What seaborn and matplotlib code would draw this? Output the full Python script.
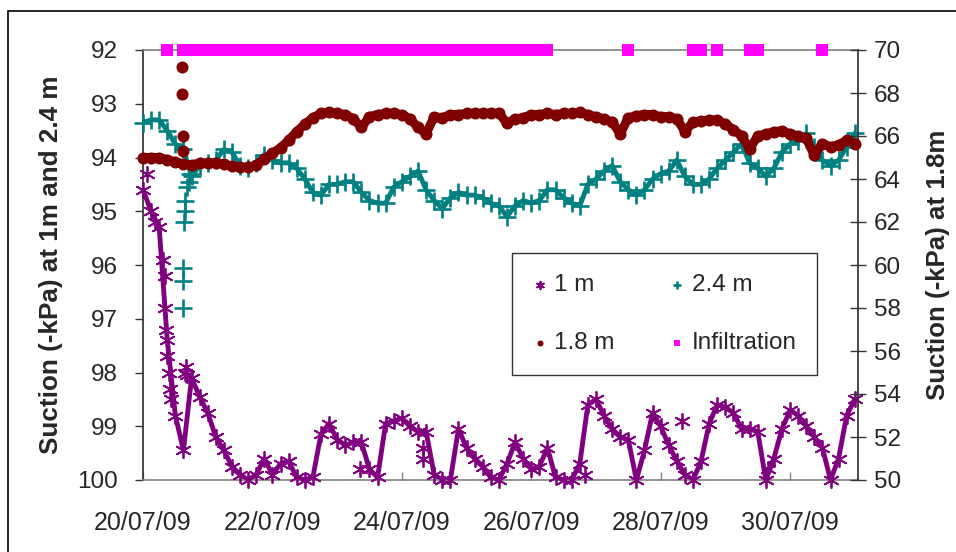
import numpy as np
import pandas as pd
import matplotlib
matplotlib.use("Agg")
import matplotlib.pyplot as plt
import matplotlib.dates as mdates
from matplotlib.patches import Rectangle
import seaborn as sns

# logger readings, every 3 hours from 20/07/09 00:00
start = pd.Timestamp("2009-07-20 00:00")
times = pd.date_range(start, periods=89, freq="3h")

# 1 m suction (-kPa), left axis
suction_1m = [94.6, 95.0, 95.3, 97.4, 98.8, 99.45, 98.1, 98.45,
              98.75, 99.2, 99.45, 99.75, 99.9, 100.0, 99.9, 99.6,
              99.9, 99.7, 99.65, 99.95, 100.0, 99.95, 99.15, 98.95,
              99.25, 99.35, 99.3, 99.3, 99.8, 99.95, 98.95, 98.9,
              98.85, 99.0, 99.1, 99.1, 99.9, 100.0, 100.0, 99.05,
              99.4, 99.6, 99.75, 99.95, 100.0, 99.7, 99.3, 99.6,
              99.8, 99.75, 99.4, 99.95, 100.0, 100.0, 99.7, 98.6,
              98.5, 98.8, 99.05, 99.2, 99.25, 100.0, 99.45, 98.75,
              99.0, 99.35, 99.65, 99.9, 100.0, 99.65, 98.95, 98.6,
              98.65, 98.75, 99.05, 99.05, 99.1, 100.0, 99.6, 99.05,
              98.7, 98.8, 99.0, 99.2, 99.4, 100.0, 99.6, 98.8, 98.5]
extra_1m_hours = [1.5, 4.5, 7.5, 8.0, 8.25, 8.5, 8.75, 9.5, 10.0, 10.5,
                  15.5, 16.0, 16.5, 80.5, 104.0, 104.0, 200.0, 164.0, 232.0]
extra_1m = [94.3, 95.2, 95.9, 96.2, 96.8, 97.2, 97.7, 98.0, 98.3, 98.5,
            98.0, 97.9, 98.05, 99.8, 99.4, 99.6, 98.9, 99.9, 99.8]

# 2.4 m suction (-kPa), left axis
suction_24m = [93.35, 93.3, 93.3, 93.5, 93.75, 93.85, 94.35, 94.15,
               94.1, 94.05, 93.85, 93.9, 94.15, 94.2, 94.1, 93.95,
               94.05, 94.1, 94.1, 94.2, 94.4, 94.65, 94.7, 94.5,
               94.5, 94.45, 94.45, 94.65, 94.8, 94.85, 94.85, 94.55,
               94.45, 94.35, 94.25, 94.6, 94.8, 94.95, 94.75, 94.65,
               94.7, 94.7, 94.75, 94.85, 94.9, 95.1, 94.9, 94.8,
               94.85, 94.8, 94.6, 94.6, 94.75, 94.85, 94.9, 94.5,
               94.4, 94.25, 94.15, 94.45, 94.6, 94.7, 94.6, 94.4,
               94.3, 94.25, 94.05, 94.35, 94.5, 94.5, 94.4, 94.2,
               94.05, 93.9, 93.75, 94.1, 94.2, 94.35, 94.2, 93.9,
               93.75, 93.7, 93.55, 93.8, 94.05, 94.15, 94.05, 93.8, 93.55]
extra_24m_hours = [14.75, 14.75, 14.75, 15.25, 15.5, 15.75, 16.25, 17.0, 17.5]
extra_24m = [96.8, 96.3, 96.05, 95.2, 95.0, 94.8, 94.55, 94.45, 94.3]

# 1.8 m suction (-kPa), right axis
suction_18m = [65.0, 65.0, 65.0, 64.9, 64.8, 64.7, 64.65, 64.75,
               64.75, 64.75, 64.7, 64.6, 64.55, 64.55, 64.65, 64.95,
               65.2, 65.45, 65.8, 66.2, 66.55, 66.85, 67.05, 67.1,
               67.05, 67.0, 66.8, 66.4, 66.9, 67.0, 67.05, 67.05,
               67.0, 66.8, 66.4, 66.1, 66.9, 66.85, 67.0, 67.0,
               67.05, 67.05, 67.05, 67.05, 67.05, 66.6, 66.8, 66.85,
               67.0, 67.0, 67.05, 67.0, 67.05, 67.05, 67.1, 67.0,
               66.9, 66.8, 66.65, 66.1, 66.85, 66.95, 67.0, 67.0,
               66.9, 66.9, 66.8, 66.2, 66.65, 66.7, 66.75, 66.75,
               66.55, 66.3, 66.0, 65.4, 66.0, 66.1, 66.2, 66.25,
               66.1, 66.0, 65.9, 65.1, 65.65, 65.5, 65.6, 65.8, 65.65]
extra_18m_hours = [14.5, 14.5, 14.75, 14.75]
extra_18m = [69.2, 67.95, 66.0, 65.3]

# infiltration periods (hours from start), plotted at the top of the left axis
infil_periods = [(9, 9), (15, 150), (180, 180), (204, 207), (213, 213),
                 (225, 228), (252, 252)]
infil_level = 92

tick_dates = pd.date_range("2009-07-20", "2009-07-30", freq="2D")


def with_extra(values, extra_hours, extra_values):
    t = list(times) + [start + pd.Timedelta(hours=h) for h in extra_hours]
    return pd.DataFrame({"time": t, "value": list(values) + list(extra_values)})


df_1m = with_extra(suction_1m, extra_1m_hours, extra_1m)
df_24m = with_extra(suction_24m, extra_24m_hours, extra_24m)
df_18m = with_extra(suction_18m, extra_18m_hours, extra_18m)

line_1m = pd.DataFrame({"time": times, "value": suction_1m})
line_24m = pd.DataFrame({"time": times, "value": suction_24m})
line_18m = pd.DataFrame({"time": times, "value": suction_18m})

hours = (times - start) / pd.Timedelta(hours=1)
mask = np.zeros(len(times), dtype=bool)
for a, b in infil_periods:
    mask |= (hours >= a) & (hours <= b)
df_inf = pd.DataFrame({"time": times[mask], "value": infil_level})

sns.set_theme(style="white")
plt.rcParams["font.family"] = ["Liberation Sans", "DejaVu Sans"]

fig = plt.figure(figsize=(9.56, 5.52), dpi=100)
ax = fig.add_axes([143 / 956, 1 - 480 / 552, 715 / 956, 430 / 552])
ax2 = ax.twinx()

purple = "#800080"
teal = "#008080"
maroon = "#800000"
magenta = "#FF00FF"

# dense logger traces: a band under the markers
sns.lineplot(data=line_1m, x="time", y="value", color=purple, lw=3.5,
             ax=ax, legend=False, zorder=2, clip_on=False)
sns.lineplot(data=line_24m, x="time", y="value", color=teal, lw=3.5,
             ax=ax, legend=False, zorder=2)
sns.lineplot(data=line_18m, x="time", y="value", color=maroon, lw=6.5,
             ax=ax2, legend=False, zorder=2)

sns.scatterplot(data=df_1m, x="time", y="value", marker=(6, 2, 0), s=120,
                color=purple, linewidth=1.3, ax=ax, legend=False,
                label="1 m", clip_on=False, zorder=3)
sns.scatterplot(data=df_24m, x="time", y="value", marker="+", s=160,
                color=teal, linewidth=1.9, ax=ax, legend=False,
                label="2.4 m", clip_on=False, zorder=3)
sns.scatterplot(data=df_inf, x="time", y="value", marker="s", s=78,
                color=magenta, linewidth=0, ax=ax, legend=False,
                label="Infiltration", clip_on=False, zorder=4)
sns.scatterplot(data=df_18m, x="time", y="value", marker="o", s=75,
                color=maroon, linewidth=0, ax=ax2, legend=False,
                label="1.8 m", clip_on=False, zorder=3)

# left axis (inverted)
ax.set_ylim(100, 92)
ax.set_yticks(range(92, 101))
ax.set_ylabel("Suction (-kPa) at 1m and 2.4 m", fontsize=18.8, fontweight="bold",
              labelpad=10)
ax.tick_params(axis="y", direction="out", length=6, width=1, color="#333333",
               labelsize=17.5, pad=12, left=True)

# right axis
ax2.set_ylim(50, 70)
ax2.set_yticks(range(50, 71, 2))
ax2.set_ylabel("Suction (-kPa) at 1.8m", fontsize=18.6, fontweight="bold",
               labelpad=18)
ax2.tick_params(axis="y", direction="inout", length=11, width=1, color="#333333",
                labelsize=17.5, pad=6, right=True)

# x axis
ax.set_xlim(start, start + pd.Timedelta(hours=265.2))
ax.set_xticks(tick_dates)
ax.xaxis.set_major_formatter(mdates.DateFormatter("%d/%m/%y"))
ax.tick_params(axis="x", direction="in", length=6, width=1, color="#808080",
               labelsize=18, pad=22, bottom=True)
ax.set_xlabel("")

for side in ["top", "bottom"]:
    ax.spines[side].set_color("#808080")
    ax.spines[side].set_linewidth(1.2)
ax.spines["left"].set_color("#333333")
ax.spines["right"].set_visible(False)
for side in ["top", "bottom", "left"]:
    ax2.spines[side].set_visible(False)
ax2.spines["right"].set_color("#333333")
ax.grid(False)
ax2.grid(False)

# legend with both axes
h1, l1 = ax.get_legend_handles_labels()
h2, l2 = ax2.get_legend_handles_labels()
handles = {lab: h for h, lab in zip(h1 + h2, l1 + l2)}
order = ["1 m", "1.8 m", "2.4 m", "Infiltration"]
leg = ax2.legend([handles[k] for k in order], order, ncol=2,
                 loc="lower left", bbox_to_anchor=(0.516, 0.244, 0.427, 0.284),
                 mode="expand", fontsize=17.5, frameon=True, fancybox=False,
                 edgecolor="#333333", framealpha=1, markerscale=0.5,
                 handlelength=0.6, handletextpad=0.3, labelspacing=1.5,
                 borderpad=0.85, columnspacing=1.5, borderaxespad=0)
leg.get_frame().set_linewidth(1)
leg.set_zorder(10)

# outer chart border
fig.patches.append(Rectangle((8 / 956, -0.02), 1.0, 1 - 11 / 552 + 0.02,
                             transform=fig.transFigure, fill=False,
                             edgecolor="black", linewidth=1.2))

fig.savefig("out.png", dpi=100)
